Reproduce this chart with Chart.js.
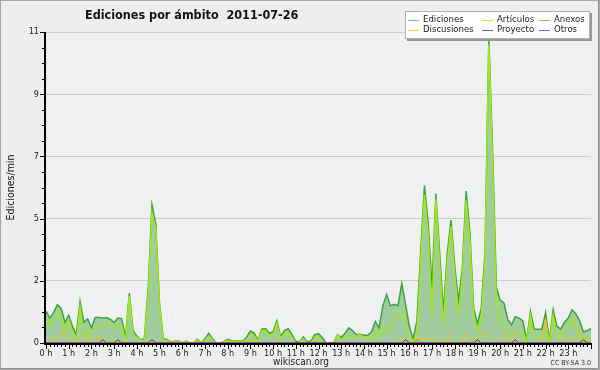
<!DOCTYPE html>
<html>
<head>
<meta charset="utf-8">
<script src="https://cdn.jsdelivr.net/npm/chart.js@4.4.0/dist/chart.umd.min.js"></script>
<style>
  html, body { margin: 0; padding: 0; background: #eeeeee; }
  #wrap { width: 600px; height: 370px; }
</style>
</head>
<body>
<div id="wrap"><canvas id="myChart" width="600" height="370"></canvas></div>
<script>
const chartTitle = 'Ediciones por ámbito  2011-07-26';
const yAxisTitle = 'Ediciones/min';
const sourceText = 'wikiscan.org';
const licenceText = 'CC BY-SA 3.0';

// one value every 10 minutes, 0:00 -> 24:00
const timeSlots = Array.from({ length: 145 }, (_, i) =>
    String(Math.floor(i / 6)).padStart(2, '0') + ':' + String((i % 6) * 10).padStart(2, '0'));

const hourLabels = ['0 h', '1 h', '2 h', '3 h', '4 h', '5 h', '6 h', '7 h', '8 h', '9 h', '10 h', '11 h',
    '12 h', '13 h', '14 h', '15 h', '16 h', '17 h', '18 h', '19 h', '20 h', '21 h', '22 h', '23 h'];

const yTickValues = [0, 2.25, 4.5, 6.75, 9, 11.25];
const yTickLabels = ['0', '2', '5', '7', '9', '11'];

const ediciones = [
    1.15, 0.9, 1.1, 1.38, 1.25, 0.75, 1.0, 0.6, 0.3, 1.5, 0.75, 0.88,
    0.55, 0.92, 0.92, 0.9, 0.92, 0.85, 0.74, 0.9, 0.88, 0.2, 1.8, 0.45,
    0.25, 0.12, 0.15, 2.0, 5.0, 4.3, 1.4, 0.15, 0.13, 0.02, 0.07, 0.07,
    0, 0.07, 0, 0, 0.13, 0, 0.15, 0.35, 0.15, 0, 0, 0.05,
    0.13, 0.08, 0.07, 0.07, 0.07, 0.2, 0.43, 0.36, 0.1, 0.5, 0.52, 0.35,
    0.4, 0.8, 0.22, 0.45, 0.52, 0.3, 0.05, 0.05, 0.22, 0.05, 0.07, 0.3,
    0.34, 0.2, 0, 0, 0, 0.3, 0.2, 0.35, 0.55, 0.45, 0.3, 0.32,
    0.28, 0.28, 0.4, 0.78, 0.55, 1.35, 1.75, 1.35, 1.4, 1.35, 2.15, 1.4,
    0.6, 0.15, 0.8, 3.3, 5.7, 4.3, 2.0, 5.4, 3.3, 1.1, 3.2, 4.45,
    2.8, 1.5, 2.7, 5.5, 4.0, 1.25, 0.7, 1.25, 3.3, 11.0, 7.0, 2.0,
    1.55, 1.45, 0.85, 0.65, 0.95, 0.9, 0.8, 0.1, 1.15, 0.5, 0.5, 0.5,
    1.1, 0.1, 1.2, 0.6, 0.5, 0.75, 0.9, 1.2, 1.05, 0.8, 0.4, 0.45,
    0.52
];

const articulos = [
    0.88, 0.6, 0.9, 1.1, 0.95, 0.4, 0.85, 0.4, 0.05, 1.3, 0.25, 0.35,
    0.45, 0.58, 0.58, 0.6, 0.7, 0.68, 0.58, 0.6, 0.64, 0.05, 1.7, 0.3,
    0.2, 0.1, 0.1, 1.8, 4.7, 4.1, 1.3, 0.1, 0.1, 0, 0.05, 0.05,
    0, 0.05, 0, 0, 0.1, 0, 0.1, 0.25, 0.1, 0, 0, 0.03,
    0.1, 0.05, 0.05, 0.05, 0.05, 0.12, 0.3, 0.25, 0.05, 0.45, 0.45, 0.25,
    0.3, 0.7, 0.15, 0.35, 0.4, 0.2, 0, 0.03, 0.15, 0, 0, 0.2,
    0.22, 0.05, 0, 0, 0, 0.3, 0.12, 0.2, 0.28, 0.2, 0.25, 0.3,
    0.2, 0.18, 0.15, 0.4, 0.2, 0.6, 0.4, 0.7, 0.8, 1.1, 1.1, 0.75,
    0.3, 0.05, 0.3, 2.9, 5.35, 3.9, 1.0, 5.2, 2.9, 0.6, 2.9, 4.2,
    2.5, 1.0, 2.4, 5.15, 3.7, 0.9, 0.45, 0.9, 3.0, 10.8, 6.5, 1.4,
    0.75, 0.64, 0.4, 0.35, 0.46, 0.4, 0.4, 0.05, 1.0, 0.2, 0.17, 0.2,
    0.3, 0.05, 1.0, 0.2, 0.3, 0.45, 0.45, 0.9, 0.6, 0.2, 0.2, 0.15,
    0.05
];

const discusiones = [
    0, 0.15, 0.1, 0.2, 0.3, 0.35, 0, 0, 0.05, 0.05, 0.05, 0.28,
    0.1, 0, 0.25, 0, 0.05, 0.05, 0.05, 0.05, 0, 0, 0, 0,
    0, 0, 0, 0, 0.1, 0, 0, 0, 0, 0, 0, 0,
    0, 0, 0, 0, 0, 0, 0, 0, 0, 0, 0, 0,
    0, 0, 0, 0, 0, 0, 0, 0.08, 0, 0, 0, 0,
    0, 0.08, 0, 0, 0, 0, 0, 0, 0, 0, 0, 0.1,
    0, 0, 0, 0, 0, 0, 0, 0, 0, 0, 0, 0,
    0.05, 0, 0, 0, 0, 0, 0, 0, 0, 0.05, 0.22, 0,
    0, 0, 0.14, 0.14, 0.15, 0.15, 0.1, 0.15, 0, 0.05, 0.1, 0.34,
    0, 0, 0.1, 0.34, 0, 0.1, 0.15, 0.25, 0.46, 0, 0, 0,
    0.1, 0.34, 0.05, 0.2, 0.34, 0.1, 0, 0, 0, 0, 0, 0,
    0.9, 0, 0, 0, 0, 0.26, 0, 0, 0.26, 0.26, 0.26, 0,
    0
];

const anexos = [
    0, 0, 0, 0, 0, 0, 0, 0, 0, 0, 0, 0,  0, 0, 0, 0, 0, 0, 0, 0, 0, 0, 0, 0,
    0, 0, 0, 0, 0, 0, 0, 0, 0, 0, 0, 0,  0, 0, 0, 0, 0, 0, 0, 0, 0, 0, 0, 0,
    0, 0, 0, 0, 0, 0, 0, 0, 0, 0, 0, 0,  0, 0, 0, 0, 0, 0, 0, 0, 0, 0, 0, 0,
    0, 0, 0, 0, 0, 0, 0, 0, 0, 0, 0, 0,  0, 0, 0, 0, 0, 0, 0, 0, 0, 0, 0, 0,
    0, 0, 0.12, 0, 0, 0, 0, 0, 0, 0, 0, 0,  0, 0, 0, 0, 0, 0, 0, 0, 0, 0, 0, 0,
    0, 0, 0, 0, 0, 0, 0, 0, 0, 0, 0, 0,  0, 0, 0, 0, 0, 0, 0, 0, 0, 0, 0, 0,
    0
];

const proyecto = [
    0, 0, 0, 0, 0, 0, 0, 0, 0, 0, 0, 0,  0, 0, 0, 0.12, 0, 0, 0, 0.12, 0, 0, 0, 0,
    0, 0, 0, 0, 0.12, 0, 0, 0, 0, 0, 0, 0,  0, 0, 0, 0, 0, 0, 0, 0, 0, 0, 0, 0,
    0, 0, 0, 0, 0, 0, 0, 0, 0, 0, 0, 0,  0, 0, 0, 0, 0, 0, 0, 0, 0, 0, 0, 0,
    0, 0, 0, 0, 0, 0, 0, 0, 0, 0, 0, 0,  0, 0, 0, 0, 0, 0, 0, 0, 0, 0, 0, 0.12,
    0, 0, 0, 0, 0, 0, 0, 0, 0, 0, 0, 0,  0, 0, 0, 0, 0, 0, 0.12, 0, 0, 0, 0, 0,
    0, 0, 0, 0, 0.12, 0, 0, 0, 0, 0, 0, 0,  0, 0, 0, 0, 0, 0, 0, 0, 0, 0, 0.12, 0,
    0
];

const otros = [
    0, 0, 0, 0, 0, 0, 0, 0, 0, 0, 0, 0,  0, 0, 0, 0, 0, 0, 0, 0, 0, 0, 0, 0,
    0, 0, 0, 0, 0, 0, 0, 0, 0, 0, 0, 0,  0, 0, 0, 0, 0, 0, 0, 0, 0, 0, 0, 0,
    0, 0, 0, 0, 0, 0, 0, 0, 0, 0, 0, 0,  0, 0, 0, 0, 0, 0, 0, 0, 0, 0, 0, 0,
    0, 0, 0, 0, 0, 0, 0, 0, 0, 0, 0, 0,  0, 0, 0, 0, 0, 0, 0, 0, 0, 0, 0, 0,
    0, 0, 0, 0, 0, 0, 0, 0, 0, 0, 0, 0,  0, 0, 0, 0, 0, 0, 0, 0, 0, 0, 0, 0,
    0, 0, 0, 0, 0, 0, 0, 0, 0, 0, 0, 0,  0, 0, 0, 0, 0, 0, 0, 0, 0, 0, 0, 0,
    0
];

// legend layout: 3 columns x 2 rows, same order as the picture
const legendItems = [
    { label: 'Ediciones', color: '#74c974', col: 0, row: 0 },
    { label: 'Artículos', color: '#c6ee3c', col: 1, row: 0 },
    { label: 'Anexos', color: '#ff8a55', col: 2, row: 0 },
    { label: 'Discusiones', color: '#ffd03a', col: 0, row: 1 },
    { label: 'Proyecto', color: '#666666', col: 1, row: 1 },
    { label: 'Otros', color: '#9a4dff', col: 2, row: 1 }
];

const FONT = '"DejaVu Sans Condensed", "DejaVu Sans", sans-serif';

const decorations = {
    id: 'decorations',
    beforeDraw(chart) {
        const { ctx, chartArea: a } = chart;
        ctx.save();
        ctx.fillStyle = '#eeeeee';
        ctx.fillRect(0, 0, chart.width, chart.height);
        ctx.fillStyle = '#eef0f2';
        ctx.fillRect(a.left, a.top, a.right - a.left, a.bottom - a.top);
        ctx.restore();
    },
    afterDatasetsDraw(chart) {
        const { ctx, chartArea: a } = chart;
        const xs = chart.scales.x, ys = chart.scales.y;
        ctx.save();
        ctx.strokeStyle = '#000';
        ctx.lineWidth = 1;
        // y minor / major ticks
        const step = (yTickValues[1] - yTickValues[0]) / 4;
        ctx.beginPath();
        for (let k = 0; k * step <= yTickValues[yTickValues.length - 1] + 1e-9; k++) {
            const py = Math.round(ys.getPixelForValue(k * step)) + 0.5;
            const len = k % 4 === 0 ? 5 : 3;
            ctx.moveTo(a.left - 1 - len, py);
            ctx.lineTo(a.left - 1, py);
        }
        // x ticks every 10 minutes, longer on the hour
        for (let i = 0; i < timeSlots.length; i++) {
            const px = Math.round(xs.getPixelForValue(i)) + 0.5;
            const len = i % 6 === 0 ? 5 : 3;
            ctx.moveTo(px, a.bottom);
            ctx.lineTo(px, a.bottom + 1 + len);
        }
        ctx.stroke();
        // axis lines
        ctx.lineWidth = 2;
        ctx.beginPath();
        ctx.moveTo(a.left - 1, a.top);
        ctx.lineTo(a.left - 1, a.bottom + 1);
        ctx.lineTo(a.right, a.bottom + 1);
        ctx.stroke();
        ctx.restore();
    },
    afterDraw(chart) {
        const { ctx, chartArea: a } = chart;
        ctx.save();

        // title
        ctx.fillStyle = '#111';
        ctx.font = 'bold 12.5px ' + FONT;
        ctx.textAlign = 'left';
        ctx.textBaseline = 'middle';
        ctx.fillText(chartTitle, 85, 16);

        // y axis title
        ctx.save();
        ctx.translate(11, (a.top + a.bottom) / 2);
        ctx.rotate(-Math.PI / 2);
        ctx.font = '10.5px ' + FONT;
        ctx.textAlign = 'center';
        ctx.fillStyle = '#111';
        ctx.fillText(yAxisTitle, 0, 0);
        ctx.restore();

        // footer texts
        ctx.font = '10px ' + FONT;
        ctx.textAlign = 'center';
        ctx.fillStyle = '#222';
        ctx.fillText(sourceText, 301, 362);
        ctx.font = '7px ' + FONT;
        ctx.textAlign = 'right';
        ctx.fillStyle = '#333';
        ctx.fillText(licenceText, 591, 363);

        // legend box
        const bx = 405, by = 11, bw = 185, bh = 28;
        ctx.fillStyle = '#999';
        ctx.fillRect(bx + 2, by + 2, bw, bh);
        ctx.fillStyle = '#ffffff';
        ctx.fillRect(bx, by, bw, bh);
        ctx.strokeStyle = '#b0b0b0';
        ctx.lineWidth = 1;
        ctx.strokeRect(bx + 0.5, by + 0.5, bw - 1, bh - 1);

        const colX = [408, 482, 539];
        const rowY = [20, 29.5];
        ctx.font = '9.5px ' + FONT;
        ctx.textAlign = 'left';
        ctx.textBaseline = 'middle';
        legendItems.forEach(item => {
            const x0 = colX[item.col], y0 = rowY[item.row];
            ctx.strokeStyle = item.color;
            ctx.beginPath();
            ctx.moveTo(x0, Math.round(y0) + 0.5);
            ctx.lineTo(x0 + 11, Math.round(y0) + 0.5);
            ctx.stroke();
            ctx.fillStyle = '#222';
            ctx.fillText(item.label, x0 + 15, y0);
        });

        // outer frame
        ctx.strokeStyle = '#a8a8a8';
        ctx.lineWidth = 1;
        ctx.strokeRect(0.5, 0.5, chart.width - 1, chart.height - 1);
        ctx.strokeStyle = '#909090';
        ctx.beginPath();
        ctx.moveTo(chart.width - 1.5, 1);
        ctx.lineTo(chart.width - 1.5, chart.height - 1.5);
        ctx.lineTo(1, chart.height - 1.5);
        ctx.stroke();
        ctx.restore();
    }
};

function lineSet(label, data, color, width, order, extra) {
    return Object.assign({
        label: label,
        data: data,
        borderColor: color,
        borderWidth: width,
        pointRadius: 0,
        tension: 0,
        fill: false,
        order: order
    }, extra || {});
}

const ctx = document.getElementById('myChart').getContext('2d');
const chart1 = new Chart(ctx, {
    type: 'line',
    data: {
        labels: timeSlots,
        datasets: [
            lineSet('Ediciones', ediciones, '#3aa53a', 1.5, 6, { fill: 'origin', backgroundColor: 'rgb(161, 204, 160)' }),
            lineSet('Artículos', articulos, '#a3e61c', 1.5, 5),
            lineSet('Anexos', anexos, '#ff6a1a', 1, 3),
            lineSet('Discusiones', discusiones, '#f2c200', 1, 4),
            lineSet('Proyecto', proyecto, '#444444', 1, 2),
            lineSet('Otros', otros, '#8a2be2', 1, 1)
        ]
    },
    options: {
        responsive: false,
        animation: false,
        layout: { padding: { top: 32, right: 9, left: 0, bottom: 0 } },
        plugins: {
            legend: { display: false },
            title: { display: false },
            tooltip: { enabled: false }
        },
        scales: {
            x: {
                type: 'category',
                offset: false,
                grid: { display: false, drawTicks: false },
                border: { display: false },
                ticks: {
                    autoSkip: false,
                    maxRotation: 0,
                    minRotation: 0,
                    padding: 5,
                    color: '#222',
                    font: { family: FONT, size: 9 },
                    callback: function(val, i) {
                        return (i % 6 === 0 && hourLabels[i / 6]) ? hourLabels[i / 6] : '';
                    }
                },
                afterFit: function(scale) { scale.height = 27; }
            },
            y: {
                min: 0,
                max: yTickValues[yTickValues.length - 1],
                afterBuildTicks: function(scale) {
                    scale.ticks = yTickValues.map(v => ({ value: v }));
                },
                grid: { color: '#cccccc', lineWidth: 1, drawTicks: false },
                border: { display: false },
                ticks: {
                    padding: 7,
                    color: '#222',
                    font: { family: FONT, size: 9 },
                    callback: function(val, i) { return yTickLabels[i]; }
                },
                afterFit: function(scale) { scale.width = 46; }
            }
        }
    },
    plugins: [decorations]
});
</script>
</body>
</html>
